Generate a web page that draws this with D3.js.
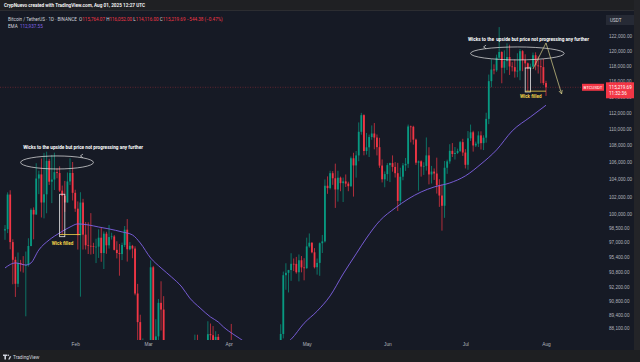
<!DOCTYPE html>
<meta charset="utf-8">
<style>
  body { margin: 0; background: #161a25; }
  svg { display: block; font-family: Roboto, "Liberation Sans", sans-serif; }
</style>
<svg width="640" height="362"></svg>
<script src="https://cdn.jsdelivr.net/npm/d3@7"></script>
<script>

// BTCUSDT 1D candles, one per day starting at firstDay
var firstDay = "2025-01-05";
var lastDay = "2025-08-01";

var open = [
  // Jan
  98220,98364,102235,96954,95060,92552,94726,94599,94511,94519,96534,100505,99987,104077,104556,101331,102260,106143,103706,103960,104819,104714,102682,102087,101332,103733,104722,
  // Feb
  102429,100635,97700,101328,97763,96612,96554,96506,96444,96462,97430,95778,97869,96608,97500,97569,96118,95780,95671,96644,98305,96182,96552,96258,91552,88680,84250,84708,
  // Mar
  84349,86064,94270,86221,87281,90606,89931,86801,86222,80734,78595,82932,83681,81067,83969,84343,82580,84075,82718,86854,84167,84043,83832,86054,87498,87392,86910,87232,84424,82648,82389,
  // Apr
  82550,85158,82516,83213,83889,83537,78430,79164,76323,82615,79607,83424,85276,83760,84592,83643,84030,84947,84474,85077,85179,87516,93442,93691,93980,94638,94628,93749,95011,94256,
  // May
  94173,96489,96887,95856,94278,94733,96834,97032,103241,102971,104696,104106,102812,104169,103539,103744,103489,103191,106455,105606,106792,109643,111696,107318,107761,109004,109434,108938,107781,105589,103985,
  // Jun
  104592,105642,105882,105432,104697,101508,104288,105615,105793,110294,110257,108686,105929,106090,105472,105552,106796,104551,104886,104658,103297,102120,100963,105333,106084,107341,106960,107088,107327,108385,
  // Jul
  107135,105681,108849,109584,107984,108198,109203,108262,108922,111233,116010,117527,117420,119086,119841,117758,118630,119177,117924,117840,117265,117380,119954,118755,118340,117614,117919,119415,118062,117950,117840,
  // Aug
  115764.07
];
var high = [
  98814,102482,102724,97258,95382,95837,95050,95450,95940,97371,100681,100781,105865,104988,106422,107100,107240,106394,106850,107120,105286,105500,103260,103800,104782,106457,106012,
  102783,101456,102500,101745,99149,99120,100137,96880,97323,98345,98500,98119,98080,98826,97972,97732,97046,96753,96899,98711,99475,96958,96650,96500,92541,89414,87078,85120,
  86558,95000,94416,88967,90998,92811,91283,86897,86500,84123,83617,84539,84336,85309,84673,85117,84756,84075,87453,87443,84850,84513,86094,88765,88542,88292,87786,87515,84624,83534,83943,
  85487,88500,83998,84720,84266,83817,81243,80867,83588,82700,84300,85905,86100,85799,86496,85500,85470,85132,85677,85320,88465,93817,94696,94000,95758,95199,95369,95630,95461,95228,
  97437,97895,96935,96304,95199,96920,97732,103969,104324,104984,104937,105819,104976,104300,104192,104550,103709,106660,107108,107320,110797,111980,111800,109500,109300,110422,110718,109314,108910,106313,104900,
  105880,105935,106794,105998,105909,105333,105900,106488,110530,110400,110384,108813,106183,106210,105985,108952,107771,105550,105250,106524,104000,103400,106128,106290,108135,108272,107800,107600,108530,108789,
  107540,109730,110529,109767,108449,109700,109700,109216,111999,116868,118869,118200,119488,123218,119940,120063,120998,120820,118499,118856,119676,120247,120090,119535,118451,118297,119766,119800,119273,118783,118922,
  116052.00
];
var low = [
  97200,97929,96181,92500,91203,92206,93831,93712,89256,94347,96500,97256,99950,102277,99651,99550,100120,103339,101262,102750,104106,102520,97777,100272,101328,103319,101560,
  100279,96150,91231,96150,96155,95676,95620,95688,94713,95256,94850,94088,95700,96252,97223,96055,95205,93388,95029,96415,94871,96080,95227,91371,86050,82256,82716,78258,
  83824,85050,85117,81390,86380,87852,84667,85218,80000,77459,76606,80628,79939,80818,83639,82017,82456,81180,82600,83647,83175,83674,83794,85346,86347,85861,85838,83647,81644,81565,81279,
  82429,82320,81211,81659,82379,77153,74508,76239,74620,78456,78936,82792,83034,83678,83600,83111,83736,84303,84424,83950,85144,87084,91935,91660,92855,93870,93602,92800,93742,92910,
  94111,96350,95753,94151,93500,93377,95784,96913,102315,102818,103346,100719,101429,102613,101383,103100,102612,103105,102000,104184,106100,109285,106800,106890,106600,108670,107516,106791,105322,103621,103068,
  103800,103662,104872,104192,100372,101095,103871,104964,105318,108355,108086,105671,102664,104300,104494,104997,103400,103500,103910,102345,100837,98200,99613,104622,105808,106600,106300,106950,107200,106733,
  105250,105100,108530,107245,107800,107800,107500,107429,108324,110578,115222,116900,117224,118905,115736,117017,117453,116812,117277,116467,116515,116128,117301,117700,114723,117400,117828,117427,117000,115737,115500,
  114116.00
];
var close = [
  98364,102235,96954,95060,92552,94726,94599,94511,94519,96534,100505,99987,104077,104556,101331,102260,106143,103706,103960,104819,104714,102682,102087,101332,103733,104722,102429,
  100635,97700,101328,97763,96612,96554,96506,96444,96462,97430,95778,97869,96608,97500,97569,96118,95780,95671,96644,98305,96182,96552,96258,91552,88680,84250,84708,84349,
  86064,94270,86220,87281,90606,89931,86801,86222,80734,78595,82932,83681,81067,83969,84343,82580,84075,82718,86854,84167,84043,83832,86054,87498,87392,86910,87232,84424,82648,82389,82550,
  85158,82516,83213,83889,83537,78430,79164,76323,82615,79607,83424,85276,83760,84592,83643,84030,84947,84474,85077,85179,87516,93442,93691,93980,94638,94628,93749,95011,94256,94173,
  96489,96887,95856,94278,94733,96834,97032,103241,102971,104696,104106,102812,104169,103539,103744,103489,103191,106455,105606,106792,109643,111696,107318,107761,109004,109434,108938,107781,105589,103985,104592,
  105642,105882,105432,104697,101508,104288,105615,105793,110294,110257,108686,105929,106090,105472,105552,106796,104551,104886,104658,103297,102120,100963,105333,106084,107341,106960,107088,107327,108385,107135,
  105681,108849,109584,107984,108198,109203,108262,108922,111233,116010,117527,117420,119086,119841,117758,118630,119177,117924,117840,117265,117380,119954,118755,118340,117614,117919,119415,118062,117950,117840,115764.07,
  115219.69
];

// EMA line
var emaDates = ["2025-01-05","2025-01-09","2025-01-13","2025-01-15","2025-01-18","2025-01-22","2025-01-26","2025-01-30",
  "2025-02-02","2025-02-06","2025-02-10","2025-02-14","2025-02-19","2025-02-23","2025-02-26","2025-03-02","2025-03-06",
  "2025-03-10","2025-03-14","2025-03-17","2025-03-21","2025-03-25","2025-03-28","2025-03-30","2025-04-01","2025-04-05",
  "2025-04-10","2025-04-15","2025-04-20","2025-04-25","2025-04-30","2025-05-05","2025-05-10","2025-05-15","2025-05-20",
  "2025-05-24","2025-05-29","2025-06-04","2025-06-09","2025-06-14","2025-06-19","2025-06-25","2025-07-01","2025-07-07",
  "2025-07-13","2025-07-19","2025-07-26","2025-08-01"];
var emaVals = [94200,94730,94510,94730,96110,97190,97950,98600,
  98940,98830,98600,98390,98060,97730,96860,95250,94200,
  93260,92220,91100,90090,89190,88690,88200,87800,87120,
  86300,85900,86100,87000,88570,89770,91310,93570,95690,
  97400,99260,100710,101730,102530,103100,103560,104380,105770,
  107450,109750,111470,112937.55];

var priceTicks = [122000,120000,118000,116000,114000,112000,110000,108000,106000,104000,102000,100000,
  98500,97000,95400,93800,92200,90800,89400,88100];
var monthTicks = ["2025-02-01","2025-03-01","2025-04-01","2025-05-01","2025-06-01","2025-07-01","2025-08-01"];

var upColor = "#089981", downColor = "#f23645", emaColor = "#8062e6";

var parse = d3.utcParse("%Y-%m-%d");
var start = parse(firstDay);
var candles = close.map(function(c, i) {
  return {date: d3.utcDay.offset(start, i), o: open[i], h: high[i], l: low[i], c: c};
});

var svg = d3.select("svg");
var x = d3.scaleUtc().domain([start, parse(lastDay)]).range([5, 546]);
var y = d3.scaleLog().domain([88100, 122000]).range([328, 36]);

svg.append("rect").attr("width", 640).attr("height", 362).attr("fill", "#161a25");

svg.append("clipPath").attr("id", "plot")
  .append("rect").attr("x", 0).attr("y", 10).attr("width", 590).attr("height", 330);

var plot = svg.append("g").attr("clip-path", "url(#plot)");

// last price line
var last = candles.length - 1;
plot.append("line")
  .attr("x1", 0).attr("x2", 590)
  .attr("y1", y(close[last])).attr("y2", y(close[last]))
  .attr("stroke", downColor).attr("stroke-opacity", 0.55)
  .attr("stroke-width", 0.6).attr("stroke-dasharray", "1,1.5");

plot.selectAll(".wick").data(candles).join("line")
  .attr("class", "wick")
  .attr("x1", d => x(d.date)).attr("x2", d => x(d.date))
  .attr("y1", d => y(d.h)).attr("y2", d => y(d.l))
  .attr("stroke", d => d.c >= d.o ? upColor : downColor)
  .attr("stroke-width", 0.7);

plot.selectAll(".body").data(candles).join("rect")
  .attr("class", "body")
  .attr("x", d => x(d.date) - 0.9)
  .attr("width", 1.8)
  .attr("y", d => Math.min(y(d.o), y(d.c)))
  .attr("height", d => Math.max(0.7, Math.abs(y(d.o) - y(d.c))))
  .attr("fill", d => d.c >= d.o ? upColor : downColor);

var ema = emaDates.map((d, i) => ({date: parse(d), v: emaVals[i]}));
plot.append("path")
  .attr("d", d3.line().x(d => x(d.date)).y(d => y(d.v)).curve(d3.curveMonotoneX)(ema))
  .attr("fill", "none").attr("stroke", emaColor).attr("stroke-width", 0.9);

// annotations (anchored to date / price)
function px(date) { return x(parse(date)); }
var white = "#e8e8e8", yellow = "#f3d34a", pale = "#d8d08a";
var note = "Wicks to the upside but price not progressing any further";

function ellipseNote(d0, d1, p0, p1, arrowDate, text, textDate, textPrice) {
  var cx = (px(d0) + px(d1)) / 2, rx = (px(d1) - px(d0)) / 2;
  var cy = (y(p0) + y(p1)) / 2, ry = Math.abs(y(p0) - y(p1)) / 2;
  plot.append("ellipse").attr("cx", cx).attr("cy", cy).attr("rx", rx).attr("ry", ry)
    .attr("fill", "none").attr("stroke", white).attr("stroke-width", 0.7);
  var ax = px(arrowDate), ay = y(p1);
  plot.append("path").attr("d", "M" + (ax + 2.5) + "," + (ay - 1.8) + "L" + ax + "," + ay + "L" + (ax + 2.5) + "," + (ay + 1.8))
    .attr("fill", "none").attr("stroke", white).attr("stroke-width", 0.7);
  plot.append("text").attr("x", px(textDate)).attr("y", y(textPrice))
    .style("white-space", "pre")
    .attr("font-size", 4.7).attr("font-weight", 700).attr("fill", "#ffffff").text(text);
}

function wickNote(d0, d1, pTop, pBot, lineEnd, linePrice, textDate, textPrice) {
  plot.append("rect").attr("x", px(d0)).attr("y", y(pTop))
    .attr("width", px(d1) - px(d0)).attr("height", y(pBot) - y(pTop))
    .attr("fill", "none").attr("stroke", white).attr("stroke-width", 0.8);
  plot.append("line").attr("x1", px(d0)).attr("x2", px(lineEnd))
    .attr("y1", y(linePrice)).attr("y2", y(linePrice))
    .attr("stroke", yellow).attr("stroke-width", 0.8);
  plot.append("text").attr("x", px(textDate)).attr("y", y(textPrice))
    .attr("font-size", 4.6).attr("font-weight", 700).attr("fill", yellow).text("Wick filled");
}

ellipseNote("2025-01-11", "2025-02-08", 105190, 106730, "2025-02-03", note, "2025-01-12", 107600);
wickNote("2025-01-26", "2025-01-28", 102270, 97540, "2025-02-03", 97777, "2025-01-23", 96650);

ellipseNote("2025-07-03", "2025-08-08", 118790, 120520, "2025-07-08", "Wicks to the  upside but price not progressing any further", "2025-07-02", 121330);
wickNote("2025-07-24", "2025-07-26", 117730, 114620, "2025-08-01", 114723, "2025-07-22", 113860);

var aPts = [["2025-07-27", 117600], ["2025-08-01", 121060], ["2025-08-07", 114370]]
  .map(p => [px(p[0]), y(p[1])]);
plot.append("path").attr("d", d3.line()(aPts))
  .attr("fill", "none").attr("stroke", pale).attr("stroke-width", 0.7);
var tip = aPts[2], prev = aPts[1];
var ang = Math.atan2(prev[1] - tip[1], prev[0] - tip[0]);
var head = [[tip[0] + 4 * Math.cos(ang - 0.45), tip[1] + 4 * Math.sin(ang - 0.45)], tip,
            [tip[0] + 4 * Math.cos(ang + 0.45), tip[1] + 4 * Math.sin(ang + 0.45)]];
plot.append("path").attr("d", d3.line()(head))
  .attr("fill", "none").attr("stroke", pale).attr("stroke-width", 0.7);

// axes
var fmt = d3.format(",.2f");
var yAxis = svg.append("g").attr("transform", "translate(606,0)")
  .call(d3.axisRight(y).tickValues(priceTicks).tickFormat(fmt).tickSize(0).tickPadding(3));
yAxis.select(".domain").remove();
yAxis.selectAll("text").attr("font-size", 4.6).attr("fill", "#b2b5be").attr("font-family", null);

var xAxis = svg.append("g").attr("transform", "translate(0,340)")
  .call(d3.axisBottom(x).tickValues(monthTicks.map(parse)).tickFormat(d3.utcFormat("%b")).tickSize(0).tickPadding(3));
xAxis.select(".domain").remove();
xAxis.selectAll("text").attr("font-size", 4.8).attr("fill", "#b2b5be").attr("font-family", null);

// currency box
svg.append("rect").attr("x", 606).attr("y", 15).attr("width", 28).attr("height", 10).attr("fill", "#262a35");
svg.append("text").attr("x", 610).attr("y", 21.5).attr("font-size", 4.6).attr("fill", "#d1d4dc").text("USDT");

// last price labels
var py = y(close[last]);
svg.append("rect").attr("x", 582).attr("y", py - 3.5).attr("width", 22).attr("height", 7).attr("fill", downColor);
svg.append("text").attr("x", 593).attr("y", py + 1.6).attr("text-anchor", "middle")
  .attr("font-size", 4.4).attr("fill", "#fff").text("BTCUSDT");
svg.append("rect").attr("x", 606).attr("y", py - 5).attr("width", 28).attr("height", 16).attr("fill", downColor);
svg.append("text").attr("x", 609).attr("y", py + 1.6).attr("font-size", 4.6).attr("fill", "#fff").text(fmt(close[last]));
svg.append("text").attr("x", 609).attr("y", py + 8).attr("font-size", 4.6).attr("fill", "#fff").text("11:32:36");

// header
svg.append("rect").attr("width", 640).attr("height", 10).attr("fill", "#1f2023");
svg.append("line").attr("x1", 0).attr("x2", 640).attr("y1", 10.5).attr("y2", 10.5).attr("stroke", "#2c2d31");
svg.append("text").attr("x", 4).attr("y", 6.8).attr("font-size", 4.7).attr("font-weight", 600)
  .attr("fill", "#ffffff").text("CrypNuevo created with TradingView.com, Aug 01, 2025 12:27 UTC");

var chg = close[last] - close[last - 1];
var legend = svg.append("text").attr("x", 8).attr("y", 20.5).attr("font-size", 4.6).attr("fill", "#d1d4dc")
  .style("white-space", "pre");
legend.append("tspan").text("Bitcoin / TetherUS · 1D · BINANCE  O");
legend.append("tspan").attr("fill", downColor).text(fmt(open[last]));
legend.append("tspan").text(" H");
legend.append("tspan").attr("fill", downColor).text(fmt(high[last]));
legend.append("tspan").text(" L");
legend.append("tspan").attr("fill", downColor).text(fmt(low[last]));
legend.append("tspan").text(" C");
legend.append("tspan").attr("fill", downColor)
  .text(fmt(close[last]) + " " + d3.format("+,.2f")(chg) + " (" + d3.format("+.2f")(chg / close[last - 1] * 100) + "%)");

var emaLegend = svg.append("text").attr("x", 8).attr("y", 27.5).attr("font-size", 4.6).attr("fill", "#d1d4dc")
  .style("white-space", "pre");
emaLegend.append("tspan").text("EMA  ");
emaLegend.append("tspan").attr("fill", emaColor).text(fmt(emaVals[emaVals.length - 1]));

// frame: right strip and footer
svg.append("rect").attr("x", 634).attr("y", 0).attr("width", 6).attr("height", 362).attr("fill", "#232428");
svg.append("rect").attr("x", 0).attr("y", 350).attr("width", 640).attr("height", 12).attr("fill", "#1e1f22");
var logo = svg.append("g").attr("fill", "#d1d4dc");
logo.append("path").attr("d", "M3,354.5h4.2v1.5h-1.2v3.6h-1.6v-3.6h-1.4z");
logo.append("circle").attr("cx", 8.3).attr("cy", 355.3).attr("r", 0.8);
logo.append("path").attr("d", "M8.2,359.6l1.6,-3.4h1.5l-1.6,3.4z");
svg.append("text").attr("x", 13).attr("y", 359.4).attr("font-size", 4.8).attr("fill", "#d1d4dc").text("TradingView");

</script>
